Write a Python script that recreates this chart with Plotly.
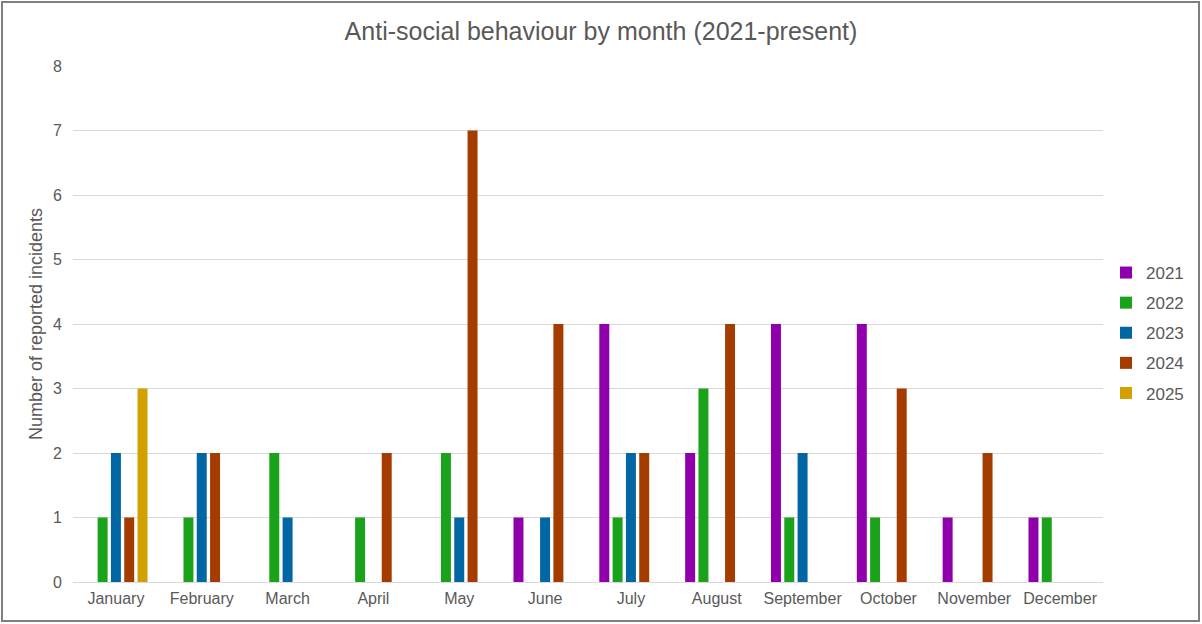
import plotly.graph_objects as go

months = ["January", "February", "March", "April", "May", "June",
          "July", "August", "September", "October", "November", "December"]
years = ["2021", "2022", "2023", "2024", "2025"]

incidents_2021 = [0, 0, 0, 0, 0, 1, 4, 2, 4, 4, 1, 1]
incidents_2022 = [1, 1, 2, 1, 2, 0, 1, 3, 1, 1, 0, 1]
incidents_2023 = [2, 2, 1, 0, 1, 1, 2, 0, 2, 0, 0, 0]
incidents_2024 = [1, 2, 0, 2, 7, 4, 2, 4, 0, 3, 2, 0]
incidents_2025 = [3, 0, 0, 0, 0, 0, 0, 0, 0, 0, 0, 0]

series = [incidents_2021, incidents_2022, incidents_2023, incidents_2024, incidents_2025]
colors = ["#8F00AC", "#1AA31A", "#0066A4", "#A43C00", "#D2A000"]

W, H = 1202, 624
L, R, T, B = 73, 99, 66, 42
pw, ph = W - L - R, H - T - B

fig = go.Figure()
for year, vals, col in zip(years, series, colors):
    fig.add_trace(go.Bar(x=months, y=vals, name=year, marker_color=col,
                         marker_line_width=0, legendgroup=year))

text_col = "#595959"
fig.update_layout(
    width=W, height=H, autosize=False,
    margin=dict(l=L, r=R, t=T, b=B),
    paper_bgcolor="white", plot_bgcolor="white",
    font=dict(family="Liberation Sans, Arial, sans-serif", size=16, color=text_col),
    title=dict(text="Anti-social behaviour by month (2021-present)",
               x=0.5, xanchor="center", xref="container", y=1 - 31 / H, yanchor="middle",
               font=dict(size=25, color=text_col)),
    barmode="group", bargap=0.225, bargroupgap=0.25,
    showlegend=True,
    legend=dict(x=(1106 - L) / pw, xanchor="left", y=(582 - 333) / ph, yanchor="middle",
                font=dict(size=17, color=text_col), tracegroupgap=5,
                itemwidth=30, borderwidth=0, bgcolor="rgba(0,0,0,0)"),
    xaxis=dict(showgrid=False, showline=True, linecolor="#D9D9D9", linewidth=1,
               ticks="", tickfont=dict(size=16, color=text_col), ticklabelstandoff=2),
    yaxis=dict(range=[0, 8], dtick=1, showgrid=True, gridcolor="#D9D9D9", gridwidth=1,
               zeroline=False, showline=False, ticks="",
               tickfont=dict(size=16, color=text_col), ticklabelstandoff=10,
               title=dict(text="Number of reported incidents",
                          font=dict(size=18, color=text_col), standoff=5)),
)

# outer frame around the whole chart
fig.add_shape(type="rect", xref="paper", yref="paper",
              x0=(2 - L) / pw, x1=(1199 - L) / pw,
              y0=(582 - 621) / ph, y1=(582 - 2) / ph,
              line=dict(color="#7F7F7F", width=2), fillcolor="rgba(0,0,0,0)", layer="above")

# keep the page exactly the size of the figure (no body margin, no scrollbars)
page_js = ("document.documentElement.style.overflow='hidden';"
           "document.body.style.margin='0';"
           "document.body.style.overflow='hidden';")

fig.write_html("out.html", post_script=page_js, config={"responsive": False})
